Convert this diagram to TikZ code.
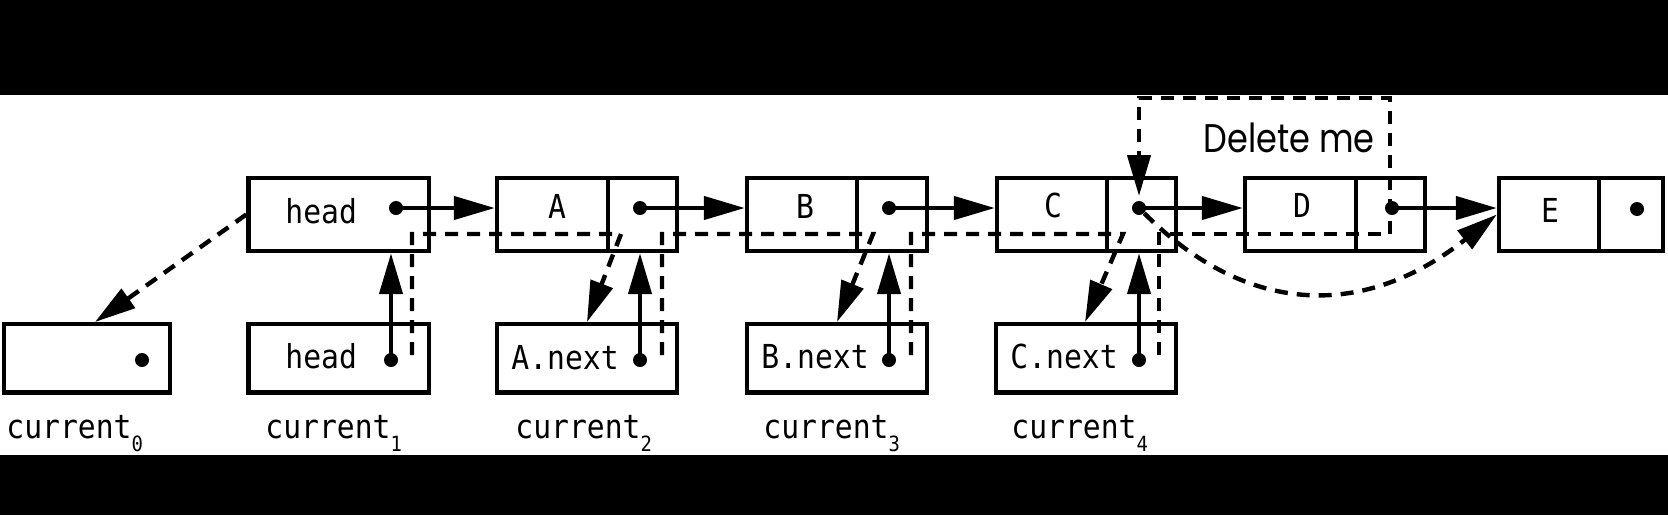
\documentclass[tikz,border=0pt]{standalone}
\usepackage{fontspec}
\usetikzlibrary{arrows.meta,calc}
\newfontfamily\codefont[FakeStretch=0.9]{DejaVu Sans Mono}
\newfontfamily\delfont[FakeStretch=0.84]{Poppins}
\newcommand\curlab[1]{{\codefont\fontsize{16.5}{18}\selectfont current}\raisebox{-6.5pt}{\codefont\fontsize{10.5}{12}\selectfont #1}}
\begin{document}
\begin{tikzpicture}[x=0.5pt,y=-0.5pt,
  cell/.style={draw, line width=2.2pt, inner sep=0pt, minimum height=36.5pt},
  lowcell/.style={draw, line width=2.2pt, inner sep=0pt, minimum height=34.25pt},
  ptdot/.style={circle, fill, inner sep=0pt, minimum size=7pt},
  arr/.style={line width=2.2pt, -{Triangle[length=20.5pt,width=11.5pt]}},
  dsh/.style={line width=2.2pt, dash pattern=on 6.5pt off 4.5pt},
  code/.style={font=\codefont\fontsize{16.5}{18}\selectfont, inner sep=0pt},
  lab/.style={anchor=base west, inner sep=0pt}]
\useasboundingbox (0,0) rectangle (1668,515);
\fill[white] (0,0) rectangle (1668,515);
\fill[black] (0,0) rectangle (1668,95);
\fill[black] (0,455) rectangle (1668,515);

% top row
\node[cell, minimum width=90.25pt] (headT) at (338.75,214.5) {};
\node[cell, minimum width=55.5pt] (Aval) at (552.5,214.5) {};
\node[cell, minimum width=34.5pt] (Aptr) at (642.5,214.5) {};
\node[cell, minimum width=55pt] (Bval) at (802,214.5) {};
\node[cell, minimum width=35pt] (Bptr) at (892,214.5) {};
\node[cell, minimum width=55pt] (Cval) at (1052,214.5) {};
\node[cell, minimum width=34.5pt] (Cptr) at (1141.5,214.5) {};
\node[cell, minimum width=55.5pt] (Dval) at (1300.5,214.5) {};
\node[cell, minimum width=34.5pt] (Dptr) at (1390.5,214.5) {};
\node[cell, minimum width=50pt] (Eval) at (1549,214.5) {};
\node[cell, minimum width=32pt] (Eptr) at (1631,214.5) {};

% bottom row
\node[lowcell, minimum width=83pt] (cur0) at (87,358.25) {};
\node[lowcell, minimum width=90.25pt] (headB) at (338.75,358.25) {};
\node[lowcell, minimum width=90pt] (Anext) at (587,358.25) {};
\node[lowcell, minimum width=90pt] (Bnext) at (837,358.25) {};
\node[lowcell, minimum width=90pt] (Cnext) at (1086,358.25) {};

% texts
\node[code, anchor=base west] (tHeadT) at (285,223) {head};
\node[code, anchor=base west] (tHeadB) at (285,368) {head};
\node[code, anchor=base] (tA) at (557,218) {A};
\node[code, anchor=base] (tB) at (805,218) {B};
\node[code, anchor=base] (tC) at (1053,217) {C};
\node[code, anchor=base] (tD) at (1302,217) {D};
\node[code, anchor=base] (tE) at (1550,222) {E};
\node[code, anchor=base west] (tAn) at (511,369) {A.next};
\node[code, anchor=base west] (tBn) at (761,368) {B.next};
\node[code, anchor=base west] (tCn) at (1010,368) {C.next};
\node[lab] (l0) at (6,438) {\curlab{0}};
\node[lab] (l1) at (265,438) {\curlab{1}};
\node[lab] (l2) at (515,438) {\curlab{2}};
\node[lab] (l3) at (763,438) {\curlab{3}};
\node[lab] (l4) at (1011,438) {\curlab{4}};
\node[anchor=base west, inner sep=0pt, font=\delfont\fontsize{20}{22}\selectfont] (del) at (1203,152) {Delete me};

% dots
\node[ptdot] (hdT) at (396,208) {};
\node[ptdot] (aD) at (640,208) {};
\node[ptdot] (bD) at (889,208) {};
\node[ptdot] (cD) at (1139,208) {};
\node[ptdot] (dD) at (1392,208) {};
\node[ptdot] (eD) at (1637,209) {};
\node[ptdot] (z0) at (142,360) {};
\node[ptdot] (hdB) at (391,360) {};
\node[ptdot] (aN) at (640,360) {};
\node[ptdot] (bN) at (889,360) {};
\node[ptdot] (cN) at (1139,360) {};

% solid arrows
\draw[arr] (hdT.center) -- (hdT -| Aval.west);
\draw[arr] (aD.center) -- (aD -| Bval.west);
\draw[arr] (bD.center) -- (bD -| Cval.west);
\draw[arr] (cD.center) -- (cD -| Dval.west);
\draw[arr] (dD.center) -- (dD -| Eval.west);
\draw[arr] (hdB.center) -- (hdB |- headT.south);
\draw[arr] (aN.center) -- (aN |- Aptr.south);
\draw[arr] (bN.center) -- (bN |- Bptr.south);
\draw[arr] (cN.center) -- (cN |- Cptr.south);

% dashed traversal
\coordinate (s1) at (412,355); \coordinate (u1) at (412,234);
\coordinate (k1) at (621,234); \coordinate (e1) at (587,322);
\coordinate (s2) at (662,355); \coordinate (u2) at (662,234);
\coordinate (k2) at (873,234); \coordinate (e2) at (837,322);
\coordinate (s3) at (911,355); \coordinate (u3) at (911,234);
\coordinate (k3) at (1123,234); \coordinate (e3) at (1085,322);
\coordinate (s4) at (1159,355); \coordinate (u4) at (1159,234);
\coordinate (r4) at (1390,234); \coordinate (q4) at (1390,98);
\coordinate (p4) at (1139,98); \coordinate (e4) at (1139,196);
\coordinate (z0tip) at (95,322);
\draw[dsh,arr] (s1) -- (u1) -- (k1) -- (e1);
\draw[dsh,arr] (s2) -- (u2) -- (k2) -- (e2);
\draw[dsh,arr] (s3) -- (u3) -- (k3) -- (e3);
\draw[dsh,arr] (s4) -- (u4) -- (r4) -- (q4) -- (p4) -- (e4);
\draw[dsh,arr] (headT.west) -- (z0tip);
\draw[dsh,arr] (cD) .. controls (1249,318) and (1366,318) .. (Eval.west);
\end{tikzpicture}
\end{document}
